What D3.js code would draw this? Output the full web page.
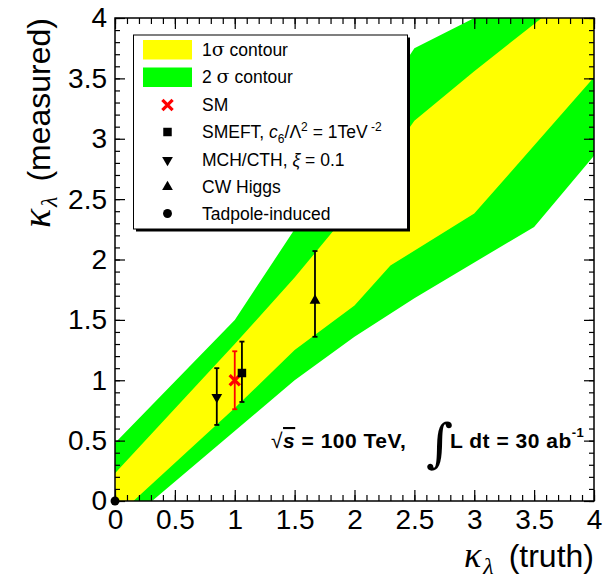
<!DOCTYPE html>
<html>
<head>
<meta charset="utf-8">
<script src="https://cdn.jsdelivr.net/npm/d3@7"></script>
<style>
  html, body { margin: 0; padding: 0; background: #fff; }
  svg { display: block; }
  text { font-family: "Liberation Sans", Arial, Helvetica, sans-serif; fill: #000; }
</style>
</head>
<body>
<svg id="chart" width="610" height="578"></svg>
<script>
// Band edges: kappa_lambda(truth) -> kappa_lambda(measured)
const sigma2Upper = [[0, 0.48], [1, 1.5], [1.5, 2.25], [2, 3.0], [2.5, 3.75], [3, 4.0], [4, 4.5]];
const sigma1Upper = [[0, 0.23], [1, 1.3], [1.5, 1.85], [2, 2.45], [2.5, 3.15], [3, 3.56], [3.5, 3.95], [4, 4.35]];
const sigma1Lower = [[0, -0.14], [1, 0.77], [1.5, 1.25], [2, 1.62], [2.3, 1.95], [3, 2.38], [4, 3.51]];
const sigma2Lower = [[0, -0.26], [1, 0.58], [1.5, 1.0], [2, 1.36], [2.5, 1.68], [3.5, 2.27], [4, 2.86]];

// Benchmark models
const modelNames = ["SM", "SMEFT", "MCH/CTH", "CW Higgs", "Tadpole-induced"];
const modelTruth = [1.0, 1.06, 0.85, 1.67, 0.0];
const modelMeasured = [1.0, 1.06, 0.86, 1.66, 0.0];
const modelErrUp = [0.24, 0.26, 0.24, 0.41, 0];
const modelErrDown = [0.24, 0.24, 0.23, 0.30, 0];
const modelSymbols = ["times", "square", "down", "up", "circle"];
const modelColors = ["#ff0000", "#000", "#000", "#000", "#000"];

const axisDomain = [0, 4];

const svg = d3.select("#chart");
const plotLeft = 115, plotRight = 594, plotTop = 18, plotBottom = 501;

const x = d3.scaleLinear().domain(axisDomain).range([plotLeft, plotRight]);
const y = d3.scaleLinear().domain(axisDomain).range([plotBottom, plotTop]);

svg.append("defs").append("clipPath").attr("id", "plotClip")
  .append("rect").attr("x", plotLeft).attr("y", plotTop)
  .attr("width", plotRight - plotLeft).attr("height", plotBottom - plotTop);

const line = d3.line().x(d => x(d[0])).y(d => y(d[1]));
function bandPath(upper, lower) {
  return line(upper.concat(lower.slice().reverse())) + "Z";
}

const bands = svg.append("g").attr("clip-path", "url(#plotClip)");
bands.append("path").attr("d", bandPath(sigma2Upper, sigma2Lower)).attr("fill", "#00ff00");
bands.append("path").attr("d", bandPath(sigma1Upper, sigma1Lower)).attr("fill", "#ffff00");

// Axes with inward ticks on all four sides
const fmt = d3.format("~g");
function styleAxis(g) {
  g.select(".domain").remove();
  g.selectAll(".tick line").attr("stroke", "#000").attr("stroke-width", 1.2);
  g.selectAll("text").style("font-size", "28px").style("font-family", "'Liberation Sans', Arial, sans-serif");
}
const majorX = x.ticks(8), minorX = x.ticks(40);
const majorY = y.ticks(8), minorY = y.ticks(40);

svg.append("g").attr("transform", `translate(0,${plotBottom})`)
  .call(d3.axisBottom(x).tickValues(minorX).tickSize(-6).tickFormat(""))
  .call(styleAxis);
svg.append("g").attr("transform", `translate(0,${plotBottom})`)
  .call(d3.axisBottom(x).tickValues(majorX).tickSize(-11).tickSizeOuter(0).tickPadding(8.5).tickFormat(fmt))
  .call(styleAxis);
svg.append("g").attr("transform", `translate(0,${plotTop})`)
  .call(d3.axisTop(x).tickValues(minorX).tickSize(-6).tickFormat(""))
  .call(styleAxis);
svg.append("g").attr("transform", `translate(0,${plotTop})`)
  .call(d3.axisTop(x).tickValues(majorX).tickSize(-11).tickFormat(""))
  .call(styleAxis);

svg.append("g").attr("transform", `translate(${plotLeft},0)`)
  .call(d3.axisLeft(y).tickValues(minorY).tickSize(-5).tickFormat(""))
  .call(styleAxis);
svg.append("g").attr("transform", `translate(${plotLeft},0)`)
  .call(d3.axisLeft(y).tickValues(majorY).tickSize(-10).tickPadding(8).tickFormat(fmt))
  .call(styleAxis);
svg.append("g").attr("transform", `translate(${plotRight},0)`)
  .call(d3.axisRight(y).tickValues(minorY).tickSize(-5).tickFormat(""))
  .call(styleAxis);
svg.append("g").attr("transform", `translate(${plotRight},0)`)
  .call(d3.axisRight(y).tickValues(majorY).tickSize(-10).tickFormat(""))
  .call(styleAxis);

svg.append("rect").attr("x", plotLeft).attr("y", plotTop)
  .attr("width", plotRight - plotLeft).attr("height", plotBottom - plotTop)
  .attr("fill", "none").attr("stroke", "#000").attr("stroke-width", 1.5);

// Marker shapes
const symbolMap = {
  times: d3.symbol().type(d3.symbolTimes).size(70),
  square: d3.symbol().type(d3.symbolSquare).size(72),
  up: d3.symbol().type(d3.symbolTriangle).size(50),
  down: d3.symbol().type(d3.symbolTriangle).size(50),
  circle: d3.symbol().type(d3.symbolCircle).size(62)
};
function drawMarker(g, kind, color, cx, cy) {
  const p = g.append("path").attr("d", symbolMap[kind]())
    .attr("transform", `translate(${cx},${cy})` + (kind === "down" ? " rotate(180)" : ""));
  if (kind === "times") {
    p.attr("fill", "none").attr("stroke", color).attr("stroke-width", 3.2);
  } else {
    p.attr("fill", color);
  }
}

// Error bars and markers
const pts = svg.append("g");
modelNames.forEach((name, i) => {
  const cx = x(modelTruth[i]);
  const c = modelColors[i];
  if (modelErrUp[i] > 0 || modelErrDown[i] > 0) {
    const y1 = y(modelMeasured[i] + modelErrUp[i]);
    const y0 = y(modelMeasured[i] - modelErrDown[i]);
    pts.append("line").attr("x1", cx).attr("x2", cx).attr("y1", y1).attr("y2", y0)
      .attr("stroke", c).attr("stroke-width", 1.8);
    [y0, y1].forEach(yy => pts.append("line")
      .attr("x1", cx - 2.5).attr("x2", cx + 2.5).attr("y1", yy).attr("y2", yy)
      .attr("stroke", c).attr("stroke-width", 1.8));
  }
  drawMarker(pts, modelSymbols[i], c, cx, y(modelMeasured[i]));
});

// Legend
const leg = svg.append("g");
const lx = 133.5, ly = 35, lw = 274, lh = 194;
leg.append("rect").attr("x", lx + 2.5).attr("y", ly + 2.5).attr("width", lw).attr("height", lh).attr("fill", "#000");
leg.append("rect").attr("x", lx).attr("y", ly).attr("width", lw).attr("height", lh)
  .attr("fill", "#fff").attr("stroke", "#000").attr("stroke-width", 1);

const rowY = [50, 77, 105, 132, 160, 187, 213.5];
const textX = 202, markX = 167.5;
leg.append("rect").attr("x", 143).attr("y", 40).attr("width", 49).attr("height", 19.5).attr("fill", "#ffff00");
leg.append("rect").attr("x", 143).attr("y", 67.5).attr("width", 49).attr("height", 19.5).attr("fill", "#00ff00");

const legFont = 17.5;
function legText(row) {
  return leg.append("text").attr("x", textX).attr("y", rowY[row] + 6.3).style("font-size", legFont + "px");
}
const t0 = legText(0);
t0.append("tspan").text("1");
t0.append("tspan").style("font-family", "'DejaVu Serif', serif").style("font-size", "19px").text("\u03c3");
t0.append("tspan").text("  contour");
const t1 = legText(1);
t1.append("tspan").text("2 ");
t1.append("tspan").style("font-family", "'DejaVu Serif', serif").style("font-size", "19px").text("\u03c3");
t1.append("tspan").text("  contour");
legText(2).text("SM");
const t3 = legText(3);
t3.append("tspan").text("SMEFT, ");
t3.append("tspan").style("font-style", "italic").text("c");
t3.append("tspan").attr("dy", 5).style("font-size", "12px").text("6");
t3.append("tspan").attr("dy", -5).text("/\u039b");
t3.append("tspan").attr("dy", -7).style("font-size", "12px").text("2");
t3.append("tspan").attr("dy", 7).text(" = 1TeV");
t3.append("tspan").attr("dy", -7).style("font-size", "12px").text(" -2");
const t4 = legText(4);
t4.append("tspan").text("MCH/CTH, ");
t4.append("tspan").style("font-style", "italic").text("\u03be");
t4.append("tspan").text(" = 0.1");
legText(5).text("CW Higgs");
legText(6).text("Tadpole-induced");

const legendOrder = [0, 1, 2, 3, 4];
legendOrder.forEach((i, k) => {
  drawMarker(leg, modelSymbols[i], modelColors[i], markX, rowY[k + 2]);
});

// Collider annotation
const ann = svg.append("g").style("font-weight", "bold");
const a1 = ann.append("text").attr("x", 271).attr("y", 448)
  .style("font-size", "21px").style("letter-spacing", "0.5px");
a1.append("tspan").style("font-weight", "normal").text("\u221a");
a1.append("tspan").style("font-style", "italic").style("text-decoration", "overline").text("s");
a1.append("tspan").text(" = 100 TeV,");
ann.append("text").attr("x", 426).attr("y", 461)
  .style("font-family", "'DejaVu Serif', serif").style("font-weight", "normal").style("font-size", "52px")
  .text("\u222b");
const a2 = ann.append("text").attr("x", 450).attr("y", 448)
  .style("font-size", "21px").style("letter-spacing", "0.5px");
a2.append("tspan").text("L dt = 30 ab");
a2.append("tspan").attr("dy", -11).style("font-size", "13px").text("-1");

// Axis titles
const serif = "'Liberation Serif', 'Times New Roman', serif";
const xt = svg.append("text").attr("x", 594).attr("y", 567).attr("text-anchor", "end");
xt.append("tspan").style("font-family", serif)
  .style("font-style", "italic").style("font-size", "36px").text("\u03ba");
xt.append("tspan").attr("dx", 2).attr("dy", 7).style("font-family", serif)
  .style("font-style", "italic").style("font-size", "24px").text("\u03bb");
xt.append("tspan").attr("dx", 6).attr("dy", -7).style("font-size", "32px").text(" (truth)");

const yt = svg.append("text").attr("transform", "translate(50,18) rotate(-90)").attr("text-anchor", "end");
yt.append("tspan").style("font-family", serif)
  .style("font-style", "italic").style("font-size", "40px").text("\u03ba");
yt.append("tspan").attr("dx", 2).attr("dy", 7).style("font-family", serif)
  .style("font-style", "italic").style("font-size", "24px").text("\u03bb");
yt.append("tspan").attr("dx", 6).attr("dy", -7).style("font-size", "32px").text(" (measured)");
</script>
</body>
</html>
